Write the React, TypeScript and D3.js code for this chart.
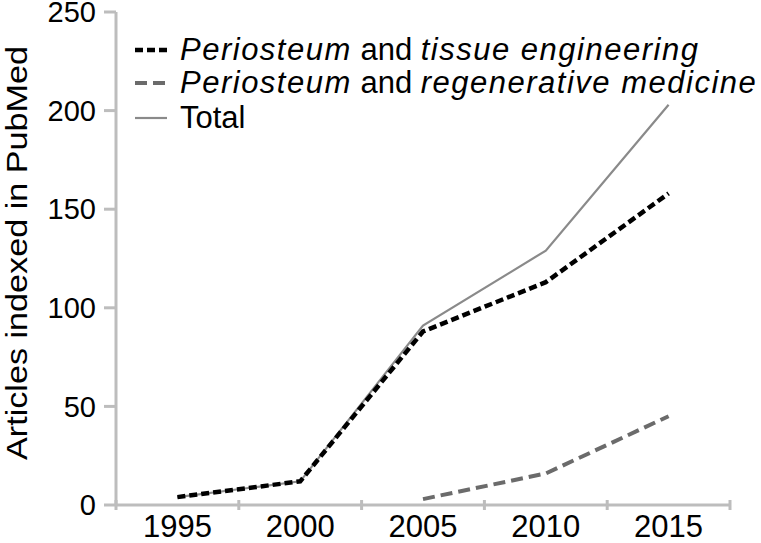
import React from "react";
import * as d3 from "d3";

const years = ["1995", "2000", "2005", "2010", "2015"];
const tissueEngineering = [4, 12, 88, 113, 158];
const regenerativeMedicine: (number | null)[] = [null, null, 3, 16, 45];
const total = [4, 12, 91, 129, 203];
const yTicks = [0, 50, 100, 150, 200, 250];

const W = 761;
const H = 543;
const FONT = "'Liberation Sans', Arial, Helvetica, sans-serif";

export default function App() {
  const x = d3.scaleBand<string>().domain(years).range([116, 730]);
  const y = d3.scaleLinear().domain([0, 250]).range([505, 12]);
  const cx = (i: number) => (x(years[i]) as number) + x.bandwidth() / 2;

  const line = d3
    .line<number | null>()
    .defined((d) => d !== null)
    .x((_, i) => cx(i))
    .y((d) => y(d as number));

  const bounds = [...years.map((yr) => x(yr) as number), 730];
  const axisColor = "#bdbdbd";
  const ital = { fontStyle: "italic", letterSpacing: "1.5px" } as const;

  return (
    <svg
      width={W}
      height={H}
      style={{ position: "absolute", left: 0, top: 0, background: "#fff" }}
      fontFamily={FONT}
    >
      {/* y axis */}
      <line x1={116} x2={116} y1={y(250)} y2={y(0)} stroke={axisColor} strokeWidth={3} />
      {yTicks.map((t) => (
        <g key={t}>
          <line x1={104} x2={116} y1={y(t)} y2={y(t)} stroke={axisColor} strokeWidth={3} />
          <text x={96} y={y(t)} dy="0.35em" textAnchor="end" fontSize={29} fill="#000">
            {t}
          </text>
        </g>
      ))}
      {/* x axis */}
      <line x1={116} x2={730} y1={y(0)} y2={y(0)} stroke={axisColor} strokeWidth={3} />
      {bounds.map((b, i) => (
        <line key={i} x1={b} x2={b} y1={y(0) - 5} y2={y(0) + 5} stroke={axisColor} strokeWidth={3} />
      ))}
      {years.map((yr, i) => (
        <text key={yr} x={cx(i)} y={537} textAnchor="middle" fontSize={31} fill="#000">
          {yr}
        </text>
      ))}
      {/* y title */}
      <text
        transform={`translate(27, 253) rotate(-90)`}
        textAnchor="middle"
        fontSize={30}
        textLength={414}
        lengthAdjust="spacingAndGlyphs"
        fill="#000"
      >
        Articles indexed in PubMed
      </text>

      {/* series */}
      <path d={line(total) || ""} fill="none" stroke="#8a8a8a" strokeWidth={2.2} />
      <path
        d={line(regenerativeMedicine) || ""}
        fill="none"
        stroke="#6b6b6b"
        strokeWidth={4}
        strokeDasharray="12 6"
      />
      <path
        d={line(tissueEngineering) || ""}
        fill="none"
        stroke="#000"
        strokeWidth={4.5}
        strokeDasharray="8 4"
      />

      {/* legend */}
      <g fontSize={31} fill="#000">
        <line x1={135} x2={167} y1={50} y2={50} stroke="#000" strokeWidth={4.5} strokeDasharray="8 4" />
        <text x={180} y={60}>
          <tspan {...ital}>Periosteum</tspan>
          <tspan> and </tspan>
          <tspan {...ital}>tissue engineering</tspan>
        </text>
        <line x1={135} x2={167} y1={83} y2={83} stroke="#6b6b6b" strokeWidth={4} strokeDasharray="12 6" />
        <text x={180} y={93}>
          <tspan {...ital}>Periosteum</tspan>
          <tspan> and </tspan>
          <tspan {...ital}>regenerative medicine</tspan>
        </text>
        <line x1={135} x2={167} y1={118} y2={118} stroke="#8a8a8a" strokeWidth={2.2} />
        <text x={180} y={128}>Total</text>
      </g>
    </svg>
  );
}
